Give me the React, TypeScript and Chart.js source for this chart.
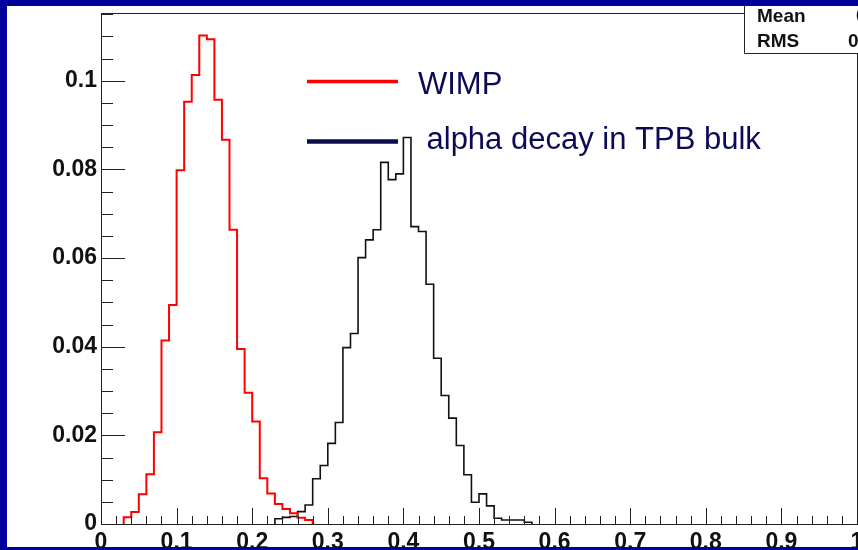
import React, { useEffect, useRef } from 'react';
import { Chart, registerables } from 'chart.js';

Chart.register(...registerables);

// ---- data (bin width 0.01) ----
const binWidth = 0.01;
const wimpStart = 0.03;
const wimpValues = [
  0.0015, 0.0027, 0.0067, 0.0112, 0.0207, 0.0414, 0.0494, 0.0798, 0.0953, 0.1013,
  0.1102, 0.1094, 0.0957, 0.0867, 0.0664, 0.0395, 0.0296, 0.0231, 0.0103, 0.0069,
  0.0045, 0.0034, 0.0024, 0.0014, 0.0009,
];
const alphaStart = 0.23;
const alphaValues = [
  0.0012, 0.0015, 0.0017, 0.0028, 0.0043, 0.0102, 0.0132, 0.0182, 0.0229, 0.0398,
  0.0430, 0.0601, 0.0641, 0.0664, 0.0816, 0.0777, 0.0790, 0.0872, 0.0671, 0.0660,
  0.0541, 0.0374, 0.0290, 0.0239, 0.0177, 0.0111, 0.0049, 0.0068, 0.0041, 0.0013,
  0.0009, 0.0009, 0.0009, 0.0004,
];
const xMin = 0;
const xMax = 1;
const xStep = 0.1;
const yMin = 0;
const yMax = 0.1153;
const yStep = 0.02;
const legendLabels = ['WIMP', 'alpha decay in TPB bulk'];
const statLabels = ['Mean', 'RMS'];
const statValues = ['0.1445', '0.0382'];

function histPoints(start: number, values: number[]) {
  const pts = [{ x: start, y: 0 }];
  values.forEach((v, i) => pts.push({ x: +(start + i * binWidth).toFixed(4), y: v }));
  pts.push({ x: +(start + values.length * binWidth).toFixed(4), y: 0 });
  return pts;
}

const FONT = '"Liberation Sans", Arial, Helvetica, sans-serif';
const NAVY = '#0b0b55';

const rootDecor = {
  id: 'rootDecor',
  afterDatasetsDraw(chart: any) {
    const { ctx, chartArea: a, scales } = chart;
    const xs = scales.x;
    const ys = scales.y;
    ctx.save();
    ctx.strokeStyle = '#222';
    ctx.lineWidth = 1;
    ctx.strokeRect(a.left + 0.5, a.top + 0.5, a.right - a.left, a.bottom - a.top);
    ctx.beginPath();
    // y ticks (inside)
    for (let i = 0; i * 0.005 <= yMax + 1e-9; i++) {
      const py = Math.round(ys.getPixelForValue(i * 0.005)) + 0.5;
      const len = i % 4 === 0 ? 24 : 12;
      ctx.moveTo(a.left, py);
      ctx.lineTo(a.left + len, py);
    }
    // x ticks (inside)
    for (let i = 0; i * 0.02 <= xMax + 1e-9; i++) {
      const px = Math.round(xs.getPixelForValue(i * 0.02)) + 0.5;
      const len = i % 5 === 0 ? 16 : 8;
      ctx.moveTo(px, a.bottom);
      ctx.lineTo(px, a.bottom - len);
    }
    ctx.stroke();
    ctx.restore();
  },
  afterDraw(chart: any) {
    const { ctx } = chart;
    ctx.save();
    // legend
    ctx.lineCap = 'butt';
    ctx.strokeStyle = '#ff0000';
    ctx.lineWidth = 3.5;
    ctx.beginPath();
    ctx.moveTo(300, 75.5);
    ctx.lineTo(391, 75.5);
    ctx.stroke();
    ctx.strokeStyle = '#0d0d4d';
    ctx.lineWidth = 4.5;
    ctx.beginPath();
    ctx.moveTo(300, 135.5);
    ctx.lineTo(391, 135.5);
    ctx.stroke();
    ctx.fillStyle = NAVY;
    ctx.font = `31px ${FONT}`;
    ctx.textBaseline = 'alphabetic';
    ctx.textAlign = 'left';
    ctx.fillText(legendLabels[0], 411, 87.5);
    ctx.fillText(legendLabels[1], 419.5, 142.5);
    // stats box
    ctx.fillStyle = '#ffffff';
    ctx.fillRect(737, -2, 130, 49);
    ctx.strokeStyle = '#222';
    ctx.lineWidth = 1;
    ctx.beginPath();
    ctx.moveTo(737.5, -2);
    ctx.lineTo(737.5, 47.5);
    ctx.lineTo(870, 47.5);
    ctx.stroke();
    ctx.fillStyle = '#111';
    ctx.font = `bold 19px ${FONT}`;
    ctx.fillText(statLabels[0], 750, 15.5);
    ctx.fillText(statLabels[1], 750, 40.5);
    ctx.fillText(statValues[0], 849, 15.5);
    ctx.fillText(statValues[1], 841, 40.5);
    ctx.restore();
  },
};

function zeroPad(s: any) {
  s.paddingTop = 0;
  s.paddingBottom = 0;
  s.paddingLeft = 0;
  s.paddingRight = 0;
}

export default function App() {
  const ref = useRef<HTMLCanvasElement | null>(null);
  useEffect(() => {
    if (!ref.current) return;
    const chart = new Chart(ref.current, {
      type: 'line',
      data: {
        datasets: [
          {
            label: legendLabels[0],
            data: histPoints(wimpStart, wimpValues),
            borderColor: '#ff0000',
            borderWidth: 2,
            stepped: 'before',
            pointRadius: 0,
            fill: false,
          },
          {
            label: legendLabels[1],
            data: histPoints(alphaStart, alphaValues),
            borderColor: '#111111',
            borderWidth: 1.6,
            stepped: 'before',
            pointRadius: 0,
            fill: false,
          },
        ],
      },
      options: {
        animation: false,
        responsive: false,
        devicePixelRatio: 1,
        layout: { padding: { top: 7, right: 1, left: 0, bottom: 0 } },
        plugins: { legend: { display: false }, tooltip: { enabled: false }, title: { display: false } },
        events: [],
        scales: {
          x: {
            type: 'linear',
            min: xMin,
            max: xMax,
            grid: { display: false, drawTicks: false },
            border: { display: false },
            ticks: {
              stepSize: xStep,
              padding: 7,
              color: '#111',
              maxRotation: 0,
              autoSkip: false,
              font: { family: FONT, size: 23, weight: 'bold', lineHeight: 1 },
              callback: (v: any) => String(Number(Number(v).toFixed(2))),
            },
            afterFit: (s: any) => { s.height = 23; zeroPad(s); },
          },
          y: {
            type: 'linear',
            min: yMin,
            max: yMax,
            grid: { display: false, drawTicks: false },
            border: { display: false },
            ticks: {
              stepSize: yStep,
              includeBounds: false,
              padding: 4,
              color: '#111',
              autoSkip: false,
              font: { family: FONT, size: 23, weight: 'bold', lineHeight: 1 },
              callback: (v: any) => String(Number(Number(v).toFixed(3))),
            },
            afterFit: (s: any) => { s.width = 94; zeroPad(s); },
          },
        },
      } as any,
      plugins: [rootDecor],
    });
    return () => chart.destroy();
  }, []);
  return (
    <div style={{ position: 'fixed', left: 0, top: 0, width: 858, height: 550, background: '#00009a', overflow: 'hidden' }}>
      <canvas
        ref={ref}
        width={851}
        height={541}
        style={{ position: 'absolute', left: 7, top: 6, width: 851, height: 541, background: '#ffffff', display: 'block' }}
      />
    </div>
  );
}
